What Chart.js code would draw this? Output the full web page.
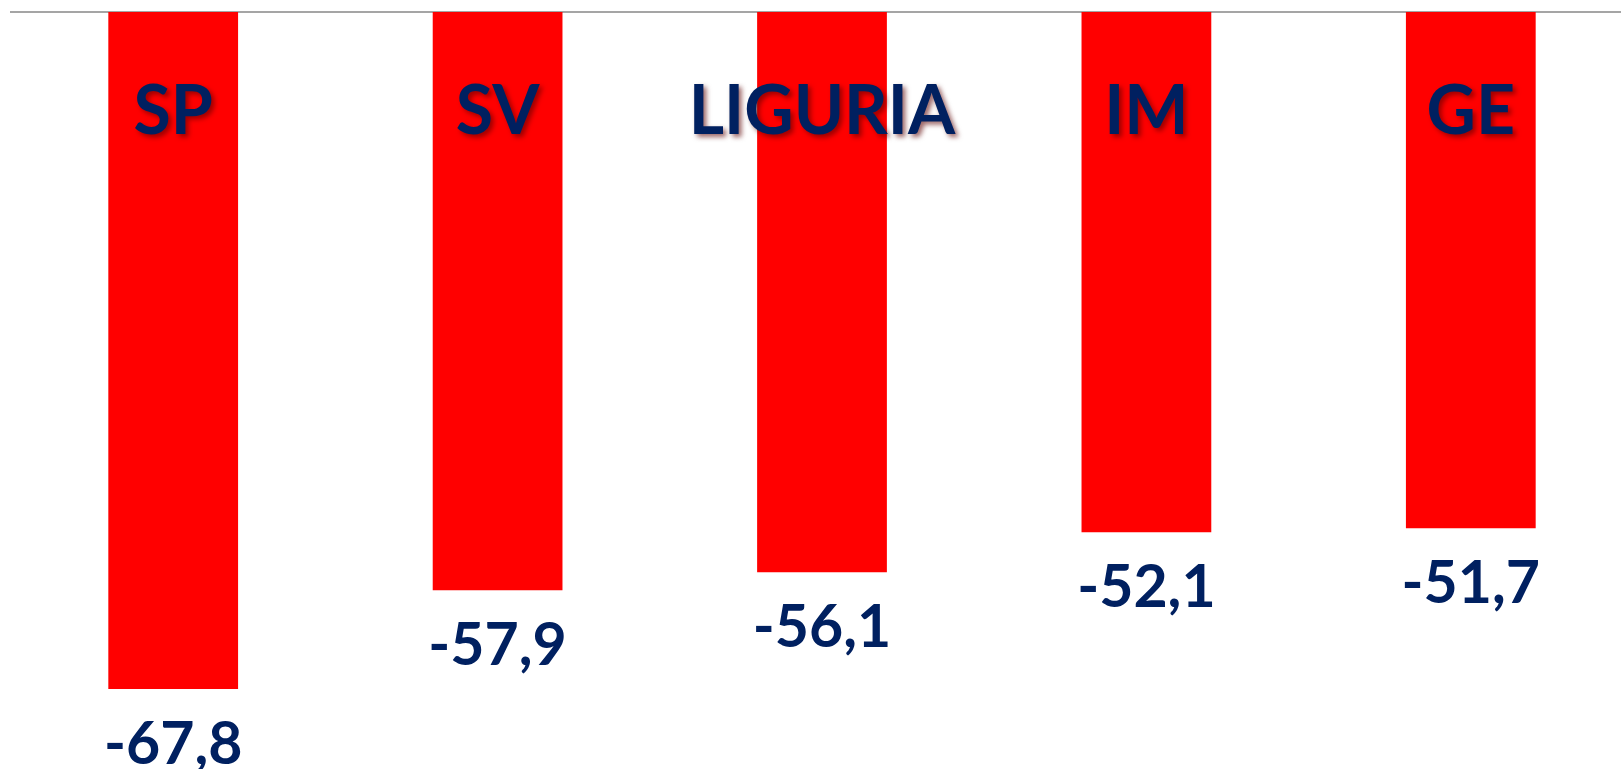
<!DOCTYPE html>
<html>
<head>
<meta charset="utf-8">
<script src="https://cdn.jsdelivr.net/npm/chart.js@4/dist/chart.umd.min.js"></script>
<style>
  html, body { margin: 0; padding: 0; background: #ffffff; overflow: hidden; }
  #wrap { position: absolute; left: 0; top: 0; width: 1634px; height: 781px; }
</style>
</head>
<body>
<div id="wrap"><canvas id="c"></canvas></div>
<script>
const categories = ['SP', 'SV', 'LIGURIA', 'IM', 'GE'];
const values = [-67.8, -57.9, -56.1, -52.1, -51.7];
const yMin = -77;
const yMax = 0;

const NAVY = '#002060';

const labelPlugin = {
  id: 'barLabels',
  afterDatasetsDraw(chart) {
    const ctx = chart.ctx;
    const meta = chart.getDatasetMeta(0);
    const yZero = chart.scales.y.getPixelForValue(0);
    meta.data.forEach((bar, i) => {
      // category name inside the top of the bar
      ctx.save();
      ctx.font = 'bold 68px Lato, "Open Sans", sans-serif';
      ctx.textAlign = 'center';
      ctx.textBaseline = 'alphabetic';
      ctx.shadowColor = 'rgba(90, 0, 0, 0.6)';
      ctx.shadowOffsetX = 3;
      ctx.shadowOffsetY = 3;
      ctx.shadowBlur = 5;
      ctx.fillStyle = NAVY;
      ctx.fillText(categories[i], bar.x, yZero + 122);
      ctx.restore();

      // value below the bar end
      ctx.save();
      ctx.font = 'bold 59px Lato, "Open Sans", sans-serif';
      ctx.textAlign = 'center';
      ctx.textBaseline = 'alphabetic';
      ctx.fillStyle = NAVY;
      const txt = values[i].toFixed(1).replace('.', ',');
      ctx.fillText(txt, bar.x, bar.y + 75);
      ctx.restore();
    });
  }
};

new Chart(document.getElementById('c'), {
  type: 'bar',
  data: {
    labels: categories,
    datasets: [{
      data: values,
      backgroundColor: '#ff0000',
      borderWidth: 0,
      barPercentage: 0.4,
      categoryPercentage: 1.0
    }]
  },
  options: {
    responsive: true,
    maintainAspectRatio: false,
    animation: false,
    layout: { padding: { left: 11, right: 1, top: 4, bottom: 0 } },
    plugins: {
      legend: { display: false },
      tooltip: { enabled: false },
      title: { display: false }
    },
    scales: {
      x: {
        position: 'top',
        grid: { display: false },
        ticks: { display: false },
        border: { display: true, color: '#a5a5a5', width: 2 }
      },
      y: {
        display: false,
        min: yMin,
        max: yMax
      }
    }
  },
  plugins: [labelPlugin]
});
</script>
</body>
</html>
